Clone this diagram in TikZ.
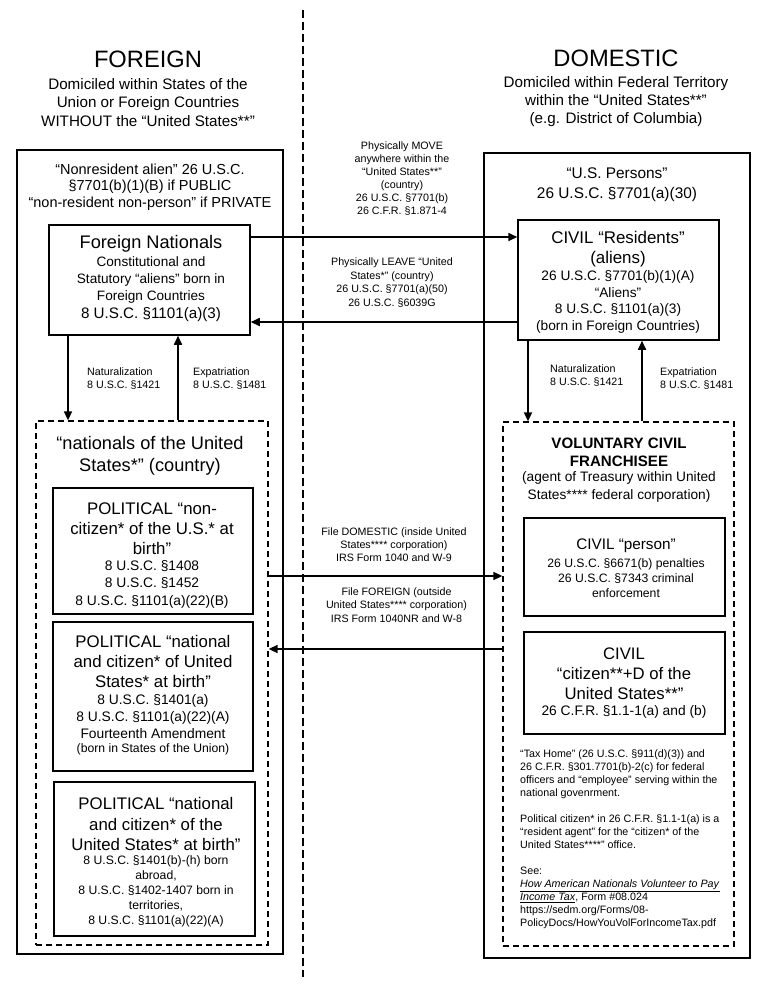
\documentclass[tikz,border=0pt]{standalone}
\usepackage{fontspec}
\setmainfont{Liberation Sans}
\usetikzlibrary{arrows.meta}
\newcommand{\myfs}[2]{\fontsize{#1pt}{#2pt}\selectfont}
\begin{document}
\begin{tikzpicture}[x=1pt,y=-1pt,
  box/.style={draw, line width=1.5pt, inner sep=0pt},
  dbox/.style={draw, line width=1.3pt, dash pattern=on 6pt off 4pt, inner sep=0pt},
  txt/.style={inner sep=0pt, align=center},
  ltxt/.style={inner sep=0pt, align=left, anchor=west},
  arr/.style={line width=1.6pt, -{Triangle[length=9pt,width=8pt]}},
  small/.style={font=\myfs{10.7}{13}}
]
\useasboundingbox (0,0) rectangle (762,986);
\fill[white] (0,0) rectangle (762,986);

% divider
\coordinate (dtop) at (303,10);
\coordinate (dbot) at (303,977);
\draw[line width=1.3pt, dash pattern=on 7.5pt off 4.5pt] (dtop) -- (dbot);

% headers
\node[txt, font=\myfs{23.7}{28}] (tF) at (148,59) {FOREIGN};
\node[txt, font=\myfs{15.2}{18.3}] (tFs) at (148,102.5) {Domiciled within States of the\\Union or Foreign Countries\\WITHOUT the “United States**”};
\node[txt, font=\myfs{23.7}{28}] (tD) at (616,58) {DOMESTIC};
\node[txt, font=\myfs{15.2}{18.3}] (tDs) at (616,101.5) {Domiciled within Federal Territory\\within the “United States**”\\(e.g. District of Columbia)};

% outer boxes
\node[box, minimum width=266pt, minimum height=804pt] (leftouter) at (150,552) {};
\node[box, minimum width=266pt, minimum height=805pt] (rightouter) at (617,555.5) {};

\node[txt, font=\myfs{14.5}{16.7}] (tLo) at (150,187) {“Nonresident alien” 26 U.S.C.\\§7701(b)(1)(B) if PUBLIC\\“non-resident non-person” if PRIVATE};
\node[txt, font=\myfs{15.4}{20}] (tRo) at (617,185) {“U.S. Persons”\\26 U.S.C. §7701(a)(30)};

% Foreign Nationals
\node[box, minimum width=201pt, minimum height=110pt] (fn) at (149.5,280) {};
\node[txt, font=\myfs{18.2}{20}] (fnA) at (151,244) {Foreign Nationals};
\node[txt, font=\myfs{13.6}{17}] (fnB) at (151,280) {Constitutional and\\Statutory “aliens” born in\\Foreign Countries};
\node[txt, font=\myfs{15.2}{18}] (fnC) at (151,315) {8 U.S.C. §1101(a)(3)};

% CIVIL Residents
\node[box, minimum width=201pt, minimum height=120pt] (res) at (618.5,280) {};
\node[txt, font=\myfs{16.9}{20}] (resA) at (618,249) {CIVIL “Residents”\\(aliens)};
\node[txt, font=\myfs{13.7}{16.7}] (resB) at (618,302) {26 U.S.C. §7701(b)(1)(A)\\“Aliens”\\8 U.S.C. §1101(a)(3)\\(born in Foreign Countries)};

% move / leave arrows
\coordinate (mv) at ([yshift=43pt]fn.east);
\coordinate (lv) at ([yshift=-42pt]fn.east);
\draw[arr] (mv) -- (mv -| res.west);
\draw[arr] (lv -| res.west) -- (lv);
\node[txt, small] (tMove) at (402,179) {Physically MOVE\\anywhere within the\\“United States**”\\(country)\\26 U.S.C. §7701(b)\\26 C.F.R. §1.871-4};
\node[txt, font=\myfs{10.7}{13.7}] (tLeave) at (392,282.5) {Physically LEAVE “United\\States*” (country)\\26 U.S.C. §7701(a)(50)\\26 U.S.C. §6039G};

% left dashed box
\node[dbox, minimum width=232pt, minimum height=524pt] (leftdash) at (152,683) {};
\node[txt, font=\myfs{18.2}{21.7}] (tLd) at (150,456) {“nationals of the United\\States*” (country)};

% naturalization left
\coordinate (d1) at ([xshift=-81.5pt]fn.south);
\coordinate (u1) at ([xshift=28.5pt]fn.south);
\draw[arr] (d1) -- (d1 |- leftdash.north);
\draw[arr] (u1 |- leftdash.north) -- (u1);
\node[ltxt, small] (tNatL) at (87,378.5) {Naturalization\\8 U.S.C. §1421};
\node[ltxt, small] (tExpL) at (193,378.5) {Expatriation\\8 U.S.C. §1481};

% political boxes
\node[box, minimum width=200pt, minimum height=126pt] (pol1) at (153,551) {};
\node[txt, font=\myfs{16.8}{20}] (p1A) at (152,528.3) {POLITICAL “non-\\citizen* of the U.S.* at\\birth”};
\node[txt, font=\myfs{13.8}{17.5}] (p1B) at (152,584) {8 U.S.C. §1408\\8 U.S.C. §1452\\8 U.S.C. §1101(a)(22)(B)};

\node[box, minimum width=200pt, minimum height=149pt] (pol2) at (153,696.5) {};
\node[txt, font=\myfs{16.8}{20}] (p2A) at (153,661.7) {POLITICAL “national\\and citizen* of United\\States* at birth”};
\node[txt, font=\myfs{13.8}{16.7}] (p2B) at (153,716.7) {8 U.S.C. §1401(a)\\8 U.S.C. §1101(a)(22)(A)\\Fourteenth Amendment};
\node[txt, font=\myfs{12.2}{14}] (p2C) at (153,749.3) {(born in States of the Union)};

\node[box, minimum width=201pt, minimum height=154pt] (pol3) at (154.5,859) {};
\node[txt, font=\myfs{16.8}{20.5}] (p3A) at (156,824) {POLITICAL “national\\and citizen* of the\\United States* at birth”};
\node[txt, font=\myfs{12.2}{14.8}] (p3B) at (156,891.4) {8 U.S.C. §1401(b)-(h) born\\abroad,\\8 U.S.C. §1402-1407 born in\\territories,\\8 U.S.C. §1101(a)(22)(A)};

% right dashed box
\node[dbox, minimum width=231pt, minimum height=524pt] (rightdash) at (618.5,684) {};
\node[txt, font=\bfseries\myfs{15.1}{18}] (tVol) at (619,452) {VOLUNTARY CIVIL\\FRANCHISEE};
\node[txt, font=\myfs{13.7}{17.7}] (tAgent) at (619,487) {(agent of Treasury within United\\States**** federal corporation)};

% naturalization right
\coordinate (d2) at ([xshift=-90.5pt]res.south);
\coordinate (u2) at ([xshift=23.5pt]res.south);
\draw[arr] (d2) -- (d2 |- rightdash.north);
\draw[arr] (u2 |- rightdash.north) -- (u2);
\node[ltxt, small] (tNatR) at (550,375.5) {Naturalization\\8 U.S.C. §1421};
\node[ltxt, small] (tExpR) at (660,378.5) {Expatriation\\8 U.S.C. §1481};

% civil person / citizen
\node[box, minimum width=201pt, minimum height=98pt] (person) at (624.5,567) {};
\node[txt, font=\myfs{15.3}{18}] (peA) at (626,546) {CIVIL “person”};
\node[txt, font=\myfs{12.2}{15}] (peB) at (626,577.7) {26 U.S.C. §6671(b) penalties\\26 U.S.C. §7343 criminal\\enforcement};

\node[box, minimum width=201pt, minimum height=102pt] (citizen) at (624.5,683) {};
\node[txt, font=\myfs{16.7}{20}] (ciA) at (624,673.3) {CIVIL\\“citizen**+D of the\\United States**”};
\node[txt, font=\myfs{13.8}{16}] (ciB) at (624,712.3) {26 C.F.R. §1.1-1(a) and (b)};

% file arrows
\coordinate (f1) at ([yshift=107pt]leftdash.east);
\coordinate (f2) at ([yshift=34pt]leftdash.east);
\draw[arr] (f1) -- (f1 -| rightdash.west);
\draw[arr] (f2 -| rightdash.west) -- (f2);
\node[txt, font=\myfs{10.7}{13.3}] (tFileD) at (394,544.5) {File DOMESTIC (inside United\\States**** corporation)\\IRS Form 1040 and W-9};
\node[txt, font=\myfs{10.7}{13.3}] (tFileF) at (396.5,605) {File FOREIGN (outside\\United States**** corporation)\\IRS Form 1040NR and W-8};

% notes
\node[ltxt, small] (notes) at (520,839.5) {“Tax Home” (26 U.S.C. §911(d)(3)) and\\26 C.F.R. §301.7701(b)-2(c) for federal\\officers and “employee” serving within the\\national govenrment.\\[13pt]Political citizen* in 26 C.F.R. §1.1-1(a) is a\\“resident agent” for the “citizen* of the\\United States****” office.\\[13pt]See:\\\underline{\textit{How American Nationals Volunteer to Pay}}\\\underline{\textit{Income Tax}}, Form \#08.024\\https://sedm.org/Forms/08-\\PolicyDocs/HowYouVolForIncomeTax.pdf};
\end{tikzpicture}
\end{document}
